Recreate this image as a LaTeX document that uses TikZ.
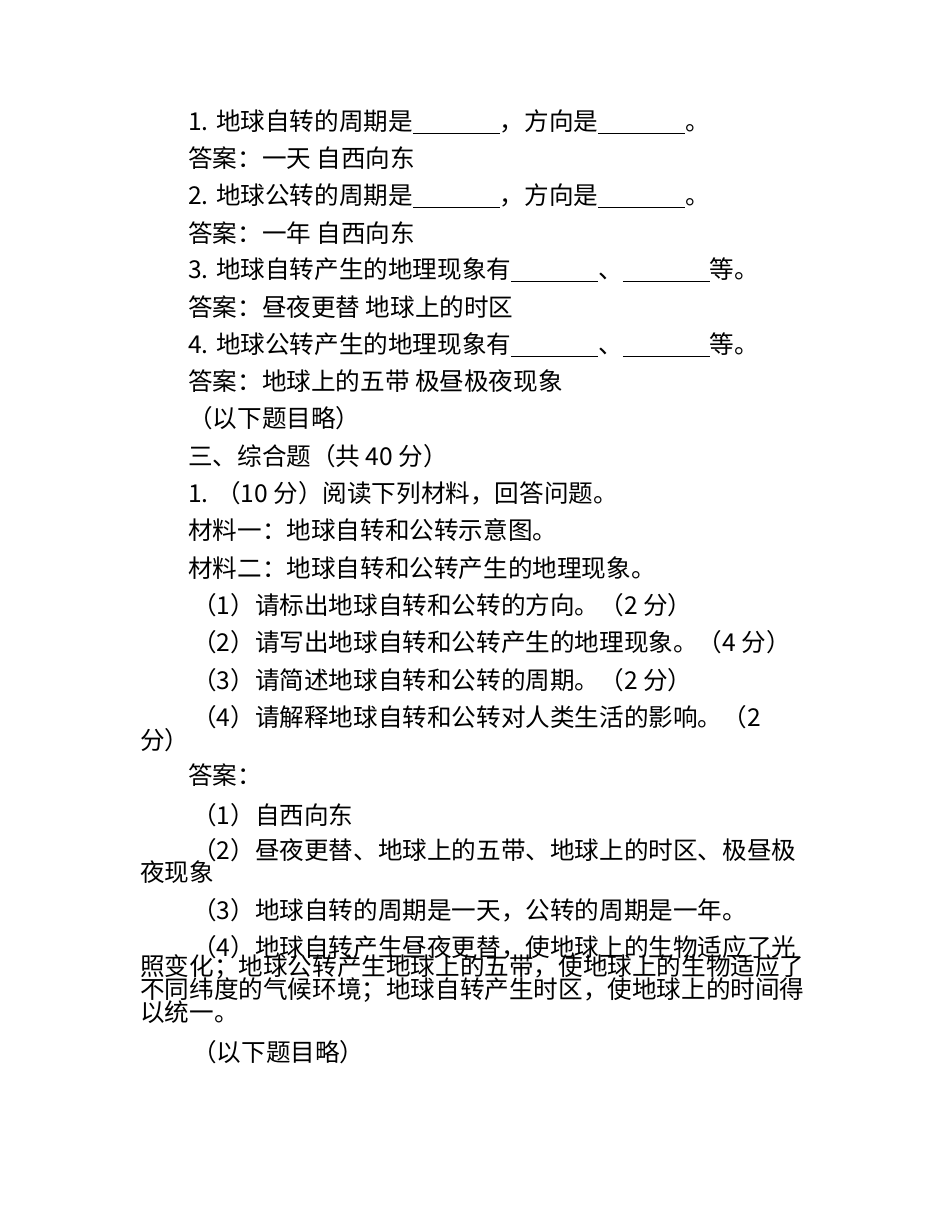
\documentclass[tikz,border=0pt]{standalone}
\usepackage{fontspec}
\setmainfont{Noto Sans CJK SC}
\newcommand{\blank}{\rule[-3pt]{87pt}{0.8pt}}
\begin{document}
\begin{tikzpicture}[x=1pt,y=-1pt,tx/.style={anchor=west,inner sep=0pt,font=\fontsize{24.6}{27}\selectfont}]
\useasboundingbox (0,0) rectangle (950,1230);
\fill[white] (0,0) rectangle (950,1230);
\node[tx] (l1) at (188,122) {1. 地球自转的周期是\blank{}，方向是\blank{}。};
\node[tx] (l2) at (188,158) {答案：一天 自西向东};
\node[tx] (l3) at (188,196) {2. 地球公转的周期是\blank{}，方向是\blank{}。};
\node[tx] (l4) at (188,233) {答案：一年 自西向东};
\node[tx] (l5) at (188,270) {3. 地球自转产生的地理现象有\blank{}、\blank{}等。};
\node[tx] (l6) at (188,307) {答案：昼夜更替 地球上的时区};
\node[tx] (l7) at (188,345) {4. 地球公转产生的地理现象有\blank{}、\blank{}等。};
\node[tx] (l8) at (188,381) {答案：地球上的五带 极昼极夜现象};
\node[tx] (l9) at (188,418) {（以下题目略）};
\node[tx] (l10) at (188,456) {三、综合题（共 40 分）};
\node[tx] (l11) at (188,493) {1. （10 分）阅读下列材料，回答问题。};
\node[tx] (l12) at (188,530) {材料一：地球自转和公转示意图。};
\node[tx] (l13) at (188,568) {材料二：地球自转和公转产生的地理现象。};
\node[tx] (l14) at (192,605) {（1）请标出地球自转和公转的方向。（2 分）};
\node[tx] (l15) at (192,642) {（2）请写出地球自转和公转产生的地理现象。（4 分）};
\node[tx] (l16) at (192,680) {（3）请简述地球自转和公转的周期。（2 分）};
\node[tx] (l17) at (192,717) {（4）请解释地球自转和公转对人类生活的影响。（2};
\node[tx] (l18) at (140,740) {分）};
\node[tx] (l19) at (188,775) {答案：};
\node[tx] (l20) at (192,815) {（1）自西向东};
\node[tx] (l21) at (192,850) {（2）昼夜更替、地球上的五带、地球上的时区、极昼极};
\node[tx] (l22) at (140,872) {夜现象};
\node[tx] (l23) at (192,910) {（3）地球自转的周期是一天，公转的周期是一年。};
\node[tx] (l24) at (192,947) {（4）地球自转产生昼夜更替，使地球上的生物适应了光};
\node[tx] (l25) at (140,967) {照变化；地球公转产生地球上的五带，使地球上的生物适应了};
\node[tx] (l26) at (140,990) {不同纬度的气候环境；地球自转产生时区，使地球上的时间得};
\node[tx] (l27) at (140,1012) {以统一。};
\node[tx] (l28) at (192,1052) {（以下题目略）};
\end{tikzpicture}
\end{document}
